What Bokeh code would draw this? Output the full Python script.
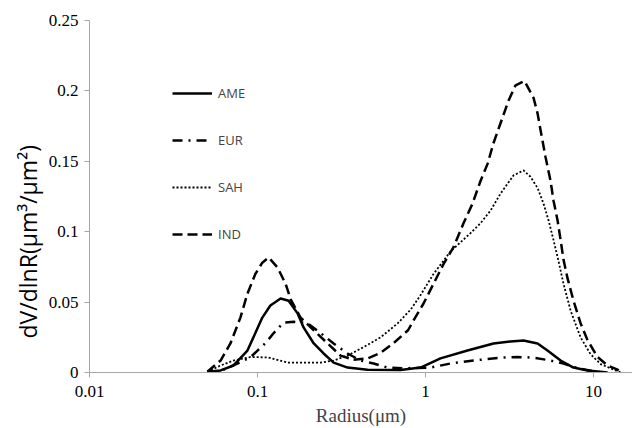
from bokeh.plotting import figure
from bokeh.models import FixedTicker, Legend, LegendItem, Title, Range1d
from bokeh.embed import file_html
from bokeh.resources import INLINE

# ---- data ----
ame_r = [0.0503, 0.0603, 0.0720, 0.0871, 0.0971, 0.1068, 0.1193, 0.1372, 0.1532, 0.1731, 0.1880, 0.2162, 0.2474, 0.2838, 0.3436, 0.4515, 0.71, 0.934, 1.228, 1.778, 2.540, 3.206, 3.831, 4.645, 5.32, 6.37, 7.60, 9.21, 12.12]
ame_v = [0.0005, 0.0015, 0.005, 0.0156, 0.028, 0.039, 0.0476, 0.0525, 0.051, 0.042, 0.032, 0.0206, 0.0135, 0.007, 0.0035, 0.002, 0.0018, 0.0035, 0.010, 0.0156, 0.0206, 0.022, 0.0227, 0.0206, 0.0156, 0.0085, 0.0035, 0.0014, 0.0]

eur_r = [0.0503, 0.0603, 0.0759, 0.0906, 0.1117, 0.1249, 0.1428, 0.1643, 0.1987, 0.2375, 0.2838, 0.3436, 0.4102, 0.4907, 0.5955, 0.7447, 1.071, 1.409, 1.931, 2.795, 3.532, 4.395, 5.55, 6.63, 8.04, 11.02]
eur_v = [0.0005, 0.001, 0.0064, 0.0107, 0.021, 0.028, 0.0355, 0.036, 0.035, 0.028, 0.0206, 0.0135, 0.0085, 0.0064, 0.0035, 0.003, 0.0035, 0.0064, 0.0085, 0.0106, 0.011, 0.0106, 0.0085, 0.0064, 0.003, 0.0]

sah_r = [0.0503, 0.0603, 0.0720, 0.0906, 0.1149, 0.1511, 0.1804, 0.2375, 0.2838, 0.3436, 0.4275, 0.5406, 0.6845, 0.82, 0.934, 1.116, 1.409, 1.853, 2.125, 2.437, 2.795, 3.076, 3.341, 3.831, 4.217, 4.645, 5.04, 5.40, 5.78, 6.11, 6.63, 7.30, 8.37, 9.60, 11.02, 12.62, 14.5]
sah_v = [0.0005, 0.005, 0.0085, 0.011, 0.0107, 0.007, 0.007, 0.007, 0.0085, 0.012, 0.018, 0.025, 0.035, 0.045, 0.055, 0.070, 0.086, 0.099, 0.106, 0.115, 0.127, 0.134, 0.140, 0.1435, 0.139, 0.131, 0.120, 0.108, 0.094, 0.082, 0.063, 0.044, 0.025, 0.013, 0.006, 0.003, 0.0]

ind_r = [0.0503, 0.0603, 0.0690, 0.0791, 0.0871, 0.0971, 0.1068, 0.1166, 0.1316, 0.1469, 0.1575, 0.1804, 0.2162, 0.2614, 0.3121, 0.3727, 0.4515, 0.5406, 0.6474, 0.7873, 0.849, 0.973, 1.116, 1.279, 1.468, 1.683, 1.905, 2.125, 2.337, 2.540, 2.795, 3.118, 3.435, 3.884, 4.395, 4.645, 4.840, 5.18, 5.55, 5.78, 6.11, 6.37, 6.63, 7.00, 7.60, 8.37, 9.21, 10.56, 12.12, 13.9, 14.5]
ind_v = [0.0005, 0.0085, 0.0206, 0.039, 0.056, 0.070, 0.078, 0.0817, 0.0746, 0.063, 0.052, 0.039, 0.030, 0.0206, 0.012, 0.009, 0.010, 0.014, 0.021, 0.030, 0.037, 0.049, 0.063, 0.077, 0.089, 0.106, 0.120, 0.136, 0.148, 0.163, 0.177, 0.193, 0.204, 0.207, 0.195, 0.184, 0.172, 0.153, 0.136, 0.122, 0.108, 0.094, 0.080, 0.067, 0.051, 0.035, 0.023, 0.011, 0.005, 0.002, 0.0]

series_names = ["AME", "EUR", "SAH", "IND"]
x_ticks = [0.01, 0.1, 1, 10]
x_tick_labels = ["0.01", "0.1", "1", "10"]
y_ticks = [0, 0.05, 0.1, 0.15, 0.2, 0.25]
y_tick_labels = ["0", "0.05", "0.1", "0.15", "0.2", "0.25"]
x_title = "Radius(\u03bcm)"
y_title = "dV/dlnR(\u03bcm\u00b3/\u03bcm\u00b2)"

# ---- figure ----
p = figure(width=632, height=428, x_axis_type="log", output_backend="svg",
           toolbar_location=None, x_range=Range1d(0.01, 17.06), y_range=Range1d(0, 0.25),
           min_border_left=89, min_border_right=0, min_border_top=20, min_border_bottom=56)
p.outline_line_color = None
p.xgrid.visible = False
p.ygrid.visible = False
p.background_fill_color = "white"
p.border_fill_color = "white"

axis_col = "#a6a6a6"
for ax in (p.xaxis[0], p.yaxis[0]):
    ax.axis_line_color = axis_col
    ax.major_tick_line_color = axis_col
    ax.minor_tick_line_color = None
    ax.major_tick_in = 0
    ax.major_tick_out = 5
    ax.major_label_text_font = "Liberation Serif"
    ax.major_label_text_font_size = "17px"
    ax.major_label_text_color = "black"

p.xaxis.ticker = FixedTicker(ticks=x_ticks)
p.xaxis.major_label_overrides = {t: l for t, l in zip(x_ticks, x_tick_labels)}
p.xaxis.major_label_standoff = 8
p.xaxis.axis_label = x_title
p.xaxis.axis_label_text_font = "Liberation Serif"
p.xaxis.axis_label_text_font_style = "normal"
p.xaxis.axis_label_text_font_size = "19px"
p.xaxis.axis_label_standoff = 5

p.yaxis.ticker = FixedTicker(ticks=y_ticks)
p.yaxis.major_label_overrides = {t: l for t, l in zip(y_ticks, y_tick_labels)}
p.yaxis.major_label_standoff = 6

styles = {
    "AME": dict(line_width=2.5, line_dash="solid"),
    "EUR": dict(line_width=2.5, line_dash="10 6 2 6"),
    "SAH": dict(line_width=1.8, line_dash="2 2"),
    "IND": dict(line_width=2.5, line_dash="10 5"),
}
data = {"AME": (ame_r, ame_v), "EUR": (eur_r, eur_v), "SAH": (sah_r, sah_v), "IND": (ind_r, ind_v)}

items = []
for name in series_names:
    r, v = data[name]
    gl = p.line(r, v, line_color="black", line_join="round", **styles[name])
    items.append(LegendItem(label=name, renderers=[gl]))

legend = Legend(items=items, location=(83, 128), padding=0, margin=0, spacing=27,
                glyph_width=40, glyph_height=20, label_height=20, label_standoff=6,
                label_text_font="Open Sans", label_text_font_size="13px",
                border_line_color=None, background_fill_alpha=0)
p.add_layout(legend, "center")

ytitle = Title(text=y_title, align="left", offset=34,
               text_font="Open Sans", text_font_size="23px", text_font_style="normal",
               text_color="black", standoff=4)
p.add_layout(ytitle, "left")

open("out.html", "w").write(file_html(p, INLINE))
